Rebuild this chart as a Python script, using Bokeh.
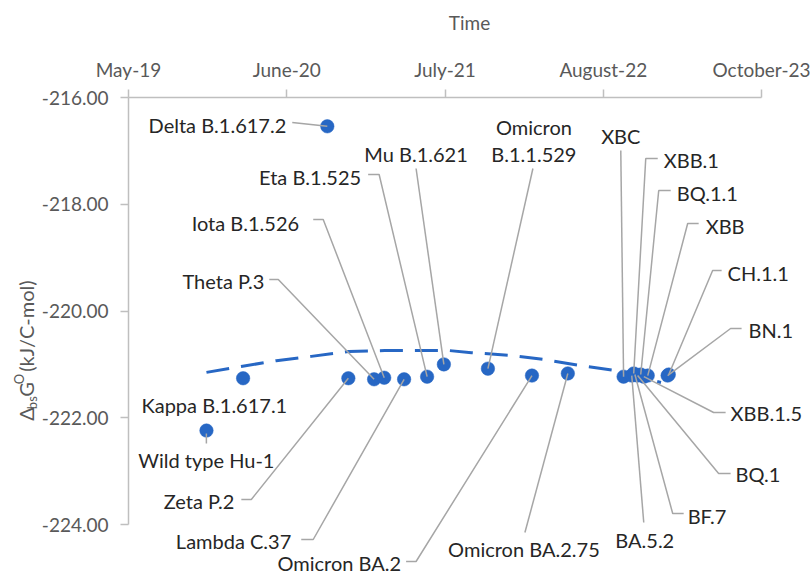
import numpy as np
import pandas as pd
from bokeh.plotting import figure
from bokeh.layouts import row
from bokeh.models import FixedTicker
from bokeh.core.properties import value
from bokeh.embed import file_html
from bokeh.resources import INLINE

# ---------------- data ----------------
variants = ["Wild type Hu-1", "Kappa B.1.617.1", "Delta B.1.617.2", "Zeta P.2", "Theta P.3",
            "Iota  B.1.526", "Lambda C.37", "Eta B.1.525", "Mu B.1.621", "Omicron\nB.1.1.529",
            "Omicron BA.2", "Omicron BA.2.75", "XBC", "BA.5.2", "XBB.1", "BF.7", "BQ.1",
            "BQ.1.1", "XBB.1.5", "XBB", "CH.1.1", "BN.1"]
dates = ["2019-11-17", "2020-02-19", "2020-09-22", "2020-11-15", "2021-01-20",
         "2021-02-15", "2021-04-07", "2021-06-05", "2021-07-18", "2021-11-08",
         "2022-03-01", "2022-06-01", "2022-10-22", "2022-11-12", "2022-11-17",
         "2022-11-20", "2022-11-27", "2022-12-05", "2022-12-13", "2022-12-23",
         "2023-02-15", "2023-02-12"]
dG = [-222.24, -221.26, -216.54, -221.26, -221.28,
      -221.25, -221.28, -221.23, -221.00, -221.08,
      -221.21, -221.17, -221.23, -221.21, -221.17,
      -221.19, -221.21, -221.19, -221.23, -221.21,
      -221.19, -221.21]

# polynomial trendline as drawn in the picture
trend_dates = ["2019-11-17", "2020-02-14", "2020-05-14", "2020-08-12", "2020-11-16",
               "2021-02-16", "2021-05-29", "2021-07-30", "2021-09-27", "2022-01-02",
               "2022-04-02", "2022-06-30", "2022-09-25", "2023-01-26"]
trend_dG = [-221.15, -221.04, -220.93, -220.85, -220.76,
            -220.74, -220.74, -220.74, -220.78, -220.83,
            -220.91, -221.02, -221.11, -221.34]

x_tick_dates = ["2019-05-01", "2020-06-10", "2021-07-21", "2022-08-31", "2023-10-11"]
x_tick_labels = ["May-19", "June-20", "July-21", "August-22", "October-23"]
y_ticks = [-224, -222, -220, -218, -216]
y_tick_labels = ["-224.00", "-222.00", "-220.00", "-218.00", "-216.00"]
x_title = "Time"
# y title pieces: text, kind (normal / sub / sup)
y_title = [("\u0394", "n"), ("bs", "sub"), ("G", "n"), ("O", "sup"), ("(kJ/C-mol)", "n")]

# ---------------- setup ----------------
X0 = pd.Timestamp(x_tick_dates[0])
def to_days(lst):
    return [int((pd.Timestamp(d) - X0).days) for d in lst]

xd = to_days(dates)
trend_x = to_days(trend_dates)
xt = to_days(x_tick_dates)
XMIN, XMAX = xt[0], xt[-1]
YMIN, YMAX = -224.0, -216.0

BLUE = "#2767C4"
GREY_AX = "#BFBFBF"
GREY_TXT = "#595959"
LEADER = "#A6A6A6"
FONT = "Lato"
FS_TICK = "19px"
FS = "20px"

W, H = 810, 574          # total page size used
TW = 38                  # width of the y-title strip
FL, FT = 127, 97         # page position of the axes corner
AXW, AXH = 634, 427      # axis extents in pixels

def px2x(px):
    return XMIN + (px - FL) * (XMAX - XMIN) / AXW
def py2y(py):
    return YMAX - (py - FT) * (YMAX - YMIN) / AXH

p = figure(width=W - TW, height=H, output_backend="svg", toolbar_location=None,
           x_range=(XMIN, px2x(W)), y_range=(py2y(H), YMAX), x_axis_location="above",
           min_border_left=FL - TW, min_border_top=FT, min_border_right=0, min_border_bottom=0)
p.outline_line_color = None
p.grid.visible = False

for ax in (p.xaxis[0], p.yaxis[0]):
    ax.axis_line_color = GREY_AX
    ax.axis_line_width = 1.5
    ax.major_tick_line_color = GREY_AX
    ax.major_tick_line_width = 1.5
    ax.major_tick_out = 8
    ax.major_tick_in = 0
    ax.minor_tick_out = 0
    ax.minor_tick_in = 0
    ax.major_label_text_color = GREY_TXT
    ax.major_label_text_font = FONT
    ax.major_label_text_font_size = FS_TICK

p.xaxis.ticker = FixedTicker(ticks=xt)
p.xaxis.bounds = (XMIN, XMAX)
p.xaxis.major_label_overrides = {t: l for t, l in zip(xt, x_tick_labels)}
p.xaxis.major_label_standoff = 9
p.xaxis.axis_label = x_title
p.xaxis.axis_label_text_font = FONT
p.xaxis.axis_label_text_font_size = FS_TICK
p.xaxis.axis_label_text_font_style = "normal"
p.xaxis.axis_label_text_color = GREY_TXT
p.xaxis.axis_label_standoff = 21

p.yaxis.ticker = FixedTicker(ticks=y_ticks)
p.yaxis.bounds = (YMIN, YMAX)
p.yaxis.major_label_overrides = {t: l for t, l in zip(y_ticks, y_tick_labels)}
p.yaxis.major_label_standoff = 12

# trendline
p.line(trend_x, trend_dG, line_color=BLUE, line_width=3, line_dash="23 12")
# points
p.scatter(xd, dG, size=13.5, fill_color=BLUE, line_color=BLUE, line_width=0.5)

# ---------------- data label layout (page pixels) ----------------
# name: (anchor px, anchor py, align, leader pts, leader_to_point)
layout = {
    "Wild type Hu-1": (205, 459, "center", [(205, 443), (205, 433)], False),
    "Kappa B.1.617.1": (213, 404, "center", [], False),
    "Delta B.1.617.2": (285, 124, "right", [(291, 122)], True),
    "Theta P.3": (263, 280, "right", [(268, 279), (277, 279)], True),
    "Iota  B.1.526": (303, 222, "right", [(312, 219), (322, 219)], True),
    "Eta B.1.525": (360, 176, "right", [(367, 174), (378, 174)], True),
    "Mu B.1.621": (415, 153, "center", [(415, 168)], True),
    "Omicron\nB.1.1.529": (533, 140, "center", [(532, 168)], True),
    "XBC": (620, 135, "center", [(620, 150)], True),
    "XBB.1": (663, 159, "left", [(657, 158), (645, 158)], True),
    "BQ.1.1": (676, 192, "left", [(670, 190), (658, 190)], True),
    "XBB": (705, 225, "left", [(698, 223), (687, 223)], True),
    "CH.1.1": (727, 272, "left", [(721, 270), (712, 270)], True),
    "BN.1": (748, 329, "left", [(741, 328), (730, 328)], True),
    "XBB.1.5": (730, 412, "left", [(725, 412), (713, 412)], True),
    "BQ.1": (735, 473, "left", [(730, 473), (718, 473)], True),
    "BF.7": (687, 515, "left", [(683, 513), (672, 513)], True),
    "BA.5.2": (644, 539, "center", [(643, 522)], True),
    "Omicron BA.2.75": (523, 548, "center", [(524, 532)], True),
    "Omicron BA.2": (400, 562, "right", [(405, 561), (415, 561)], True),
    "Lambda C.37": (290, 540, "right", [(300, 539), (312, 539)], True),
    "Zeta P.2": (233, 500, "right", [(240, 499), (250, 499)], True),
}

lx, ly = [], []
for name, x, y in zip(variants, xd, dG):
    apx, apy, align, pts, to_pt = layout[name]
    if pts:
        xs = [px2x(a) for a, b in pts]
        ys = [py2y(b) for a, b in pts]
        if to_pt:
            xs.append(x)
            ys.append(y)
        lx.append(xs)
        ly.append(ys)
p.multi_line(lx, ly, line_color=LEADER, line_width=1.5)

groups = {"left": ([], [], []), "right": ([], [], []), "center": ([], [], [])}
for name in variants:
    apx, apy, align, pts, to_pt = layout[name]
    lines = name.split("\n")
    n = len(lines)
    for k, t in enumerate(lines):
        yy = apy + (k - (n - 1) / 2) * 27
        groups[align][0].append(px2x(apx))
        groups[align][1].append(py2y(yy))
        groups[align][2].append(t)
for align, (gx, gy, gt) in groups.items():
    p.text(gx, gy, text=gt, text_align=align, text_baseline="middle",
           text_font=value(FONT), text_font_size=FS, text_color="#262626")

# ---------------- y axis title strip (with sub/superscript) ----------------
yt = figure(width=TW, height=H, output_backend="svg", toolbar_location=None,
            x_range=(0, TW), y_range=(0, H), x_axis_location=None, y_axis_location=None,
            min_border=0)
yt.outline_line_color = None
yt.grid.visible = False
# page-pixel placement of each piece (centre x, start y, size)
piece_pos = {"n": (25, "20px"), "sub": (31, "13px"), "sup": (18, "13px")}
piece_start = [389, 375, 360, 345, 330]
for (t, kind), sy in zip(y_title, piece_start):
    cx, fs = piece_pos[kind]
    yt.text([cx], [H - sy], text=[t], angle=np.pi / 2, text_align="left",
            text_baseline="middle", text_font=value(FONT), text_font_size=fs,
            text_color=GREY_TXT)

layout_root = row(yt, p, spacing=0)
open("out.html", "w").write(file_html(layout_root, INLINE))
